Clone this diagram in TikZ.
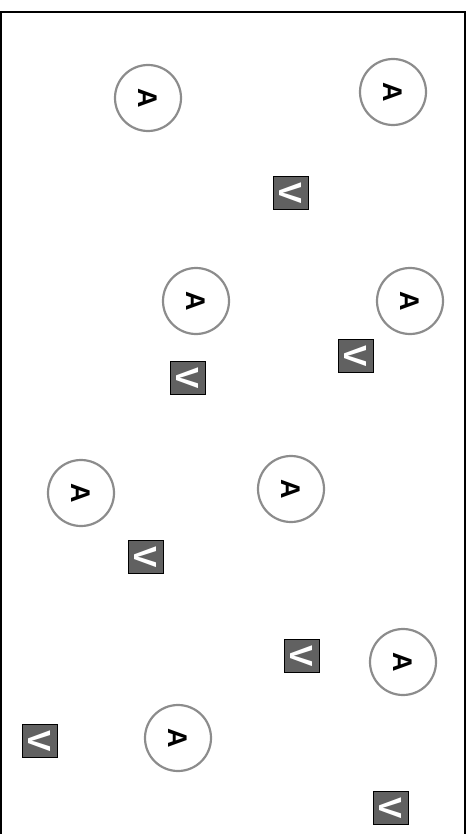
\documentclass[tikz,border=0pt]{standalone}
\usepackage{fontspec}
\setmainfont{Liberation Sans}
\begin{document}
\begin{tikzpicture}[x=1pt,y=-1pt,
  acirc/.style={circle,draw=black!45,line width=2.2pt,fill=white,minimum size=66pt,inner sep=0pt,
    font=\bfseries\fontsize{27}{27}\selectfont},
  vbox/.style={rectangle,draw=black,line width=1.8pt,fill=black!62,minimum width=35pt,minimum height=33pt,inner sep=0pt,
    text=white,font=\bfseries\fontsize{32}{32}\selectfont}]
\useasboundingbox (0,0) rectangle (474,834);
\draw[line width=2.6pt] (1,850) -- (1,12) -- (465,12) -- (465,850);
\foreach \n/\x/\y in {a1/148/98, a2/393/92, a3/196/301, a4/410/301, a5/81/493, a6/291/489, a7/403/662, a8/178/738}{
  \node[acirc] (\n) at (\x,\y) {\rotatebox{-90}{A}};
}
\foreach \n/\x/\y in {v1/291/193, v2/356/356, v3/188/378, v4/146/557, v5/302/656, v6/40/741, v7/391/808}{
  \node[vbox] (\n) at (\x,\y) {\rotatebox{-90}{V}};
}
\end{tikzpicture}
\end{document}
